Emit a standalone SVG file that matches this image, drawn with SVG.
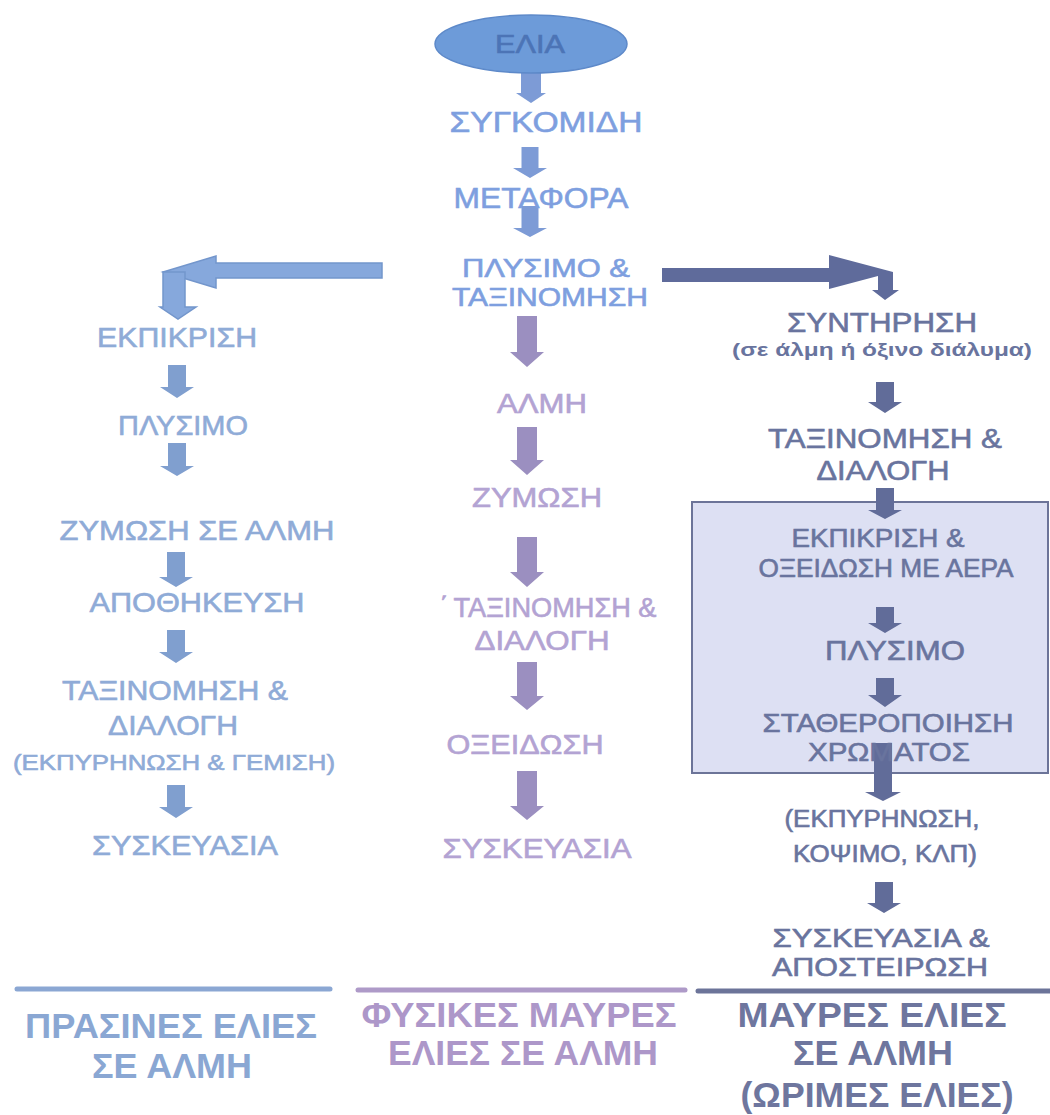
<svg xmlns="http://www.w3.org/2000/svg" width="1050" height="1115" viewBox="0 0 1050 1115">
<defs>
<style>
text{font-family:"Liberation Sans",Arial,sans-serif;text-anchor:middle;stroke-width:0.6px;}
.top{font-size:29px;fill:#7e9fdf;stroke:#7e9fdf;}
.mid{font-size:27px;fill:#b3a3d3;stroke:#b3a3d3;}
.lft{font-size:28px;fill:#8fabd7;stroke:#8fabd7;}
.rgt{font-size:28px;fill:#69749e;stroke:#69749e;}
.tight{font-size:25.5px;}
.ttl{font-size:35px;font-weight:bold;stroke-width:0;}
.a-top{fill:#7d9bd6;}
.a-mid{fill:#9b8fc0;}
.a-lft{fill:#809fcf;}
.a-rgt{fill:#616c99;}
</style>
</defs>
<rect width="1050" height="1115" fill="#ffffff"/>

<g id="box-ripe">
<rect x="692" y="502" width="356" height="271" fill="#dde0f3" stroke="#6c7498" stroke-width="2"/>
</g>

<g id="connectors">
<path class="a-top" d="M521,70 H541 V93 H546 L531,103 L516,93 H521 Z"/>
<path class="a-top" d="M521.5,147 H538.5 V168 H547 L530,178 L513,168 H521.5 Z"/>
<path class="a-top" d="M521.5,206 H538.5 V228 H547 L530,237 L513,228 H521.5 Z"/>
<path class="a-mid" d="M517,316 H537 V352 H544 L527,367 L510,352 H517 Z"/>
<path class="a-mid" d="M517,427 H537 V460 H544 L527,475 L510,460 H517 Z"/>
<path class="a-mid" d="M517,537 H537 V572 H544 L527,587 L510,572 H517 Z"/>
<path class="a-mid" d="M517,662 H537 V696 H544 L527,710 L510,696 H517 Z"/>
<path class="a-mid" d="M517,771 H537 V806 H544 L527,820 L510,806 H517 Z"/>
<path class="a-lft" d="M168,365 H186 V387 H194 L177,398 L160,387 H168 Z"/>
<path class="a-lft" d="M168,443 H186 V466 H194 L177,476 L160,466 H168 Z"/>
<path class="a-lft" d="M167,552 H185 V577 H193 L176,587 L159,577 H167 Z"/>
<path class="a-lft" d="M167,630 H185 V652 H193 L176,663 L159,652 H167 Z"/>
<path class="a-lft" d="M167,785 H185 V807 H193 L176,818 L159,807 H167 Z"/>
<path class="a-rgt" d="M876,382 H894 V402 H902 L885,413 L868,402 H876 Z"/>
<path class="a-rgt" d="M876,488 H894 V510 H902 L885,519 L868,510 H876 Z"/>
<path class="a-rgt" d="M876,607 H894 V623 H902 L885,633 L868,623 H876 Z"/>
<path class="a-rgt" d="M876,678 H894 V695 H902 L885,707 L868,695 H876 Z"/>
<path class="a-rgt" d="M874,743 H892 V792 H901 L883,801 L865,792 H874 Z"/>
<path class="a-rgt" d="M875,882 H893 V903 H901 L884,913 L867,903 H875 Z"/>
<path d="M382,263 H216 V256 L163,272 L216,288 V278 H382 Z" fill="#86a8dc" stroke="#7396cc" stroke-width="1.5"/>
<path d="M163,272 H185 V307 H196 L178,319 L160,307 H163 Z" fill="#86a8dc" stroke="#7396cc" stroke-width="1.5"/>
<path d="M662,268 H829 V255 L893,272 L829,289 V282 H662 Z" fill="#5f6b9b"/>
<path d="M878,272 H893 V290 H899 L885,300 L872,290 H878 Z" fill="#5f6b9b"/>
<line x1="17" y1="989" x2="330" y2="989" stroke="#8ba7d3" stroke-width="5" stroke-linecap="round"/>
<line x1="358" y1="990" x2="685" y2="990" stroke="#ae9ac8" stroke-width="5" stroke-linecap="round"/>
<line x1="698" y1="991" x2="1050" y2="991" stroke="#6c7499" stroke-width="5" stroke-linecap="round"/>
</g>

<g id="node-elia">
<ellipse cx="531" cy="44" rx="96" ry="29" fill="#6d9bd9" stroke="#5d89c9" stroke-width="1.5"/>
<text x="530" y="53" style="font-size:26px;fill:#4c74b6;stroke:#4c74b6" textLength="70" lengthAdjust="spacingAndGlyphs">ΕΛΙΑ</text>
</g>
<g id="node-top">
<text class="top" x="546" y="132" textLength="193" lengthAdjust="spacingAndGlyphs">ΣΥΓΚΟΜΙΔΗ</text>
<text class="top" x="541" y="208" textLength="175" lengthAdjust="spacingAndGlyphs">ΜΕΤΑΦΟΡΑ</text>
<text class="top tight" x="546" y="277" textLength="168" lengthAdjust="spacingAndGlyphs">ΠΛΥΣΙΜΟ &amp;</text>
<text class="top tight" x="550" y="306" textLength="196" lengthAdjust="spacingAndGlyphs">ΤΑΞΙΝΟΜΗΣΗ</text>
</g>

<g id="node-left">
<text class="lft" x="177" y="347" textLength="160" lengthAdjust="spacingAndGlyphs">ΕΚΠΙΚΡΙΣΗ</text>
<text class="lft" x="183" y="435" textLength="130" lengthAdjust="spacingAndGlyphs">ΠΛΥΣΙΜΟ</text>
<text class="lft" x="197" y="540" textLength="275" lengthAdjust="spacingAndGlyphs">ΖΥΜΩΣΗ ΣΕ ΑΛΜΗ</text>
<text class="lft" x="197" y="612" textLength="215" lengthAdjust="spacingAndGlyphs">ΑΠΟΘΗΚΕΥΣΗ</text>
<text class="lft" x="175" y="700" textLength="226" lengthAdjust="spacingAndGlyphs">ΤΑΞΙΝΟΜΗΣΗ &amp;</text>
<text class="lft" x="173" y="735" textLength="130" lengthAdjust="spacingAndGlyphs">ΔΙΑΛΟΓΗ</text>
<text class="lft" x="174" y="770" style="font-size:22px" textLength="322" lengthAdjust="spacingAndGlyphs">(ΕΚΠΥΡΗΝΩΣΗ &amp; ΓΕΜΙΣΗ)</text>
<text class="lft" x="185" y="855" textLength="186" lengthAdjust="spacingAndGlyphs">ΣΥΣΚΕΥΑΣΙΑ</text>
</g>

<g id="node-middle">
<text class="mid" x="542" y="413" textLength="90" lengthAdjust="spacingAndGlyphs">ΑΛΜΗ</text>
<text class="mid" x="537" y="507" textLength="130" lengthAdjust="spacingAndGlyphs">ΖΥΜΩΣΗ</text>
<text class="mid" x="444" y="617">΄</text>
<text class="mid" x="555" y="617" textLength="203" lengthAdjust="spacingAndGlyphs">ΤΑΞΙΝΟΜΗΣΗ &amp;</text>
<text class="mid" x="542" y="650" textLength="135" lengthAdjust="spacingAndGlyphs">ΔΙΑΛΟΓΗ</text>
<text class="mid" x="525" y="754" textLength="157" lengthAdjust="spacingAndGlyphs">ΟΞΕΙΔΩΣΗ</text>
<text class="mid" x="537" y="858" textLength="189" lengthAdjust="spacingAndGlyphs">ΣΥΣΚΕΥΑΣΙΑ</text>
</g>

<g id="node-right">
<text class="rgt" x="882" y="332" textLength="190" lengthAdjust="spacingAndGlyphs">ΣΥΝΤΗΡΗΣΗ</text>
<text class="rgt" x="882" y="356" style="font-size:18px;font-weight:bold;stroke-width:0" textLength="300" lengthAdjust="spacingAndGlyphs">(σε άλμη ή όξινο διάλυμα)</text>
<text class="rgt" x="885" y="448" textLength="234" lengthAdjust="spacingAndGlyphs">ΤΑΞΙΝΟΜΗΣΗ &amp;</text>
<text class="rgt" x="883" y="480" textLength="133" lengthAdjust="spacingAndGlyphs">ΔΙΑΛΟΓΗ</text>
<text class="rgt" x="878" y="547" style="font-size:25px" textLength="173" lengthAdjust="spacingAndGlyphs">ΕΚΠΙΚΡΙΣΗ &amp;</text>
<text class="rgt" x="886" y="577" style="font-size:25px" textLength="255" lengthAdjust="spacingAndGlyphs">ΟΞΕΙΔΩΣΗ ΜΕ ΑΕΡΑ</text>
<text class="rgt" x="895" y="660" textLength="140" lengthAdjust="spacingAndGlyphs">ΠΛΥΣΙΜΟ</text>
<text class="rgt tight" x="888" y="732" textLength="251" lengthAdjust="spacingAndGlyphs">ΣΤΑΘΕΡΟΠΟΙΗΣΗ</text>
<text class="rgt tight" x="889" y="761" textLength="162" lengthAdjust="spacingAndGlyphs">ΧΡΩΜΑΤΟΣ</text>
<text class="rgt" x="882" y="827" style="font-size:23px" textLength="195" lengthAdjust="spacingAndGlyphs">(ΕΚΠΥΡΗΝΩΣΗ,</text>
<text class="rgt" x="885" y="862" style="font-size:23px" textLength="184" lengthAdjust="spacingAndGlyphs">ΚΟΨΙΜΟ, ΚΛΠ)</text>
<text class="rgt tight" x="881" y="947" textLength="217" lengthAdjust="spacingAndGlyphs">ΣΥΣΚΕΥΑΣΙΑ &amp;</text>
<text class="rgt tight" x="880" y="976" textLength="216" lengthAdjust="spacingAndGlyphs">ΑΠΟΣΤΕΙΡΩΣΗ</text>
</g>

<g id="title-green">
<text class="ttl" x="171" y="1038" fill="#8aa7d3" textLength="292" lengthAdjust="spacingAndGlyphs">ΠΡΑΣΙΝΕΣ ΕΛΙΕΣ</text>
<text class="ttl" x="172" y="1078" fill="#8aa7d3" textLength="160" lengthAdjust="spacingAndGlyphs">ΣΕ ΑΛΜΗ</text>
</g>
<g id="title-natural-black">
<text class="ttl" x="519" y="1027" fill="#ad97c9" textLength="315" lengthAdjust="spacingAndGlyphs">ΦΥΣΙΚΕΣ ΜΑΥΡΕΣ</text>
<text class="ttl" x="523" y="1065" fill="#ad97c9" textLength="270" lengthAdjust="spacingAndGlyphs">ΕΛΙΕΣ ΣΕ ΑΛΜΗ</text>
</g>
<g id="title-black">
<text class="ttl" x="872" y="1027" fill="#6e769e" textLength="269" lengthAdjust="spacingAndGlyphs">ΜΑΥΡΕΣ ΕΛΙΕΣ</text>
<text class="ttl" x="873" y="1065" fill="#6e769e" textLength="160" lengthAdjust="spacingAndGlyphs">ΣΕ ΑΛΜΗ</text>
<text class="ttl" x="877" y="1107" fill="#6e769e" textLength="273" lengthAdjust="spacingAndGlyphs">(ΩΡΙΜΕΣ ΕΛΙΕΣ)</text>
</g>
</svg>
